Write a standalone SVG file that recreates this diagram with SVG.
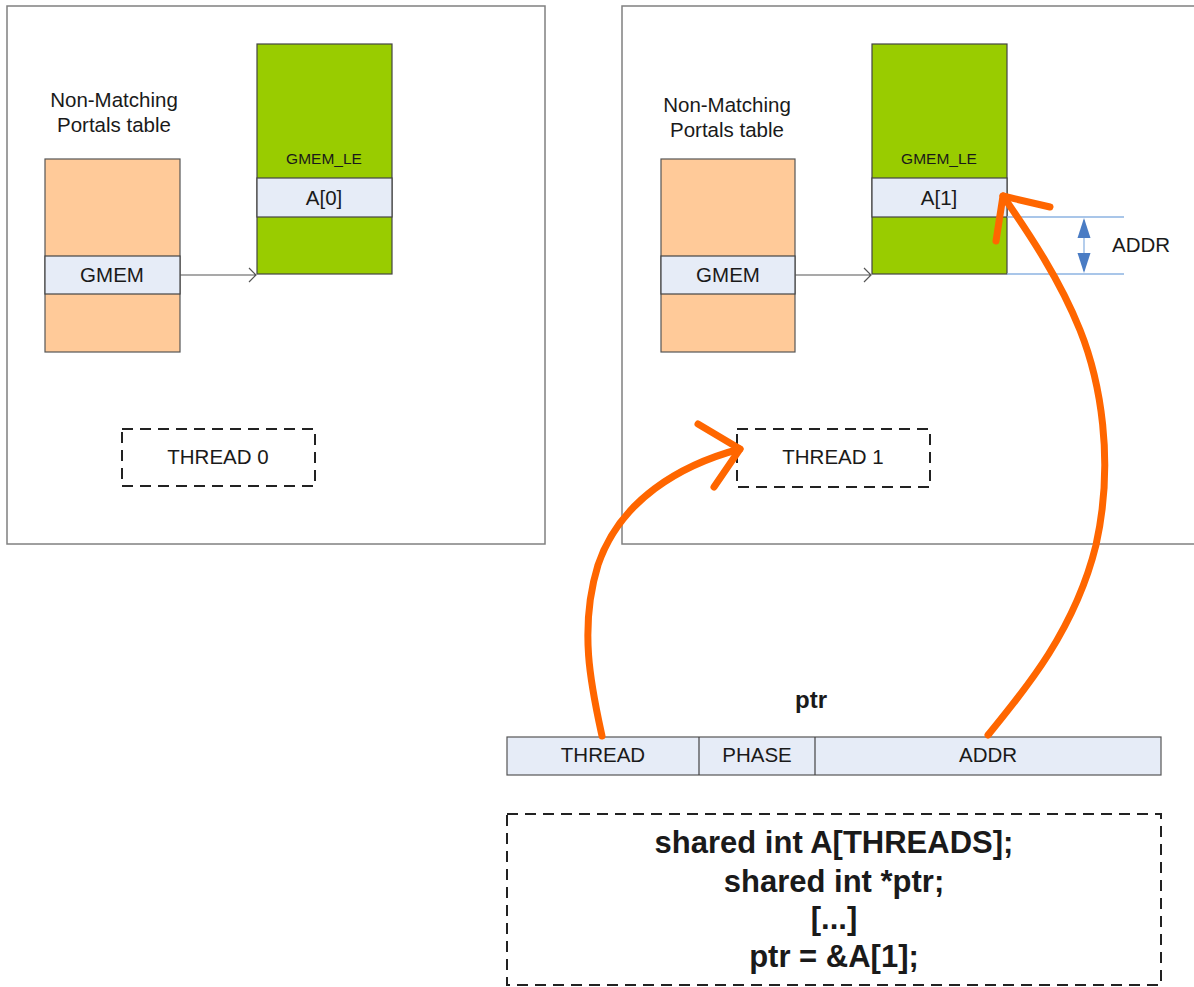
<svg xmlns="http://www.w3.org/2000/svg" width="1194" height="987" viewBox="0 0 1194 987">
  <defs>
    <style>
      .panel{fill:#fff;stroke:#808080;stroke-width:1.5}
      .tbl{fill:#ffca99;stroke:#555;stroke-width:1.2}
      .le{fill:#99cc00;stroke:#444;stroke-width:1.2}
      .row{fill:#e6ecf7;stroke:#444;stroke-width:1.2}
      .dash{fill:none;stroke:#222;stroke-width:2;stroke-dasharray:11 7}
      .link{fill:none;stroke:#555;stroke-width:1.2}
      .dim{fill:none;stroke:#8db3e2;stroke-width:1.3}
      .dimhead{fill:#4a7cc4}
      .hand{fill:none;stroke:#ff6600;stroke-width:7;stroke-linecap:round;stroke-linejoin:round}
      text{font-family:"Liberation Sans",Arial,sans-serif;fill:#1a1a1a;text-anchor:middle}
      .lbl{font-size:20.5px}
      .small{font-size:15.5px}
      .bold{font-weight:bold}
      .code{font-size:31px;font-weight:bold}
    </style>
  </defs>

  <!-- thread 0 memory space -->
  <g id="thread0-space">
    <rect class="panel" x="7" y="6" width="538" height="538"/>
    <text class="lbl" x="114" y="107">Non-Matching</text>
    <text class="lbl" x="114" y="132">Portals table</text>
  </g>
  <g id="thread0-table">
    <rect class="tbl" x="45" y="159" width="135" height="193"/>
    <rect class="row" x="45" y="256" width="135" height="38"/>
    <text class="lbl" x="112" y="282">GMEM</text>
  </g>
  <g id="thread0-le">
    <rect class="le" x="257" y="44" width="135" height="230"/>
    <text class="small" x="324" y="164">GMEM_LE</text>
    <rect class="row" x="257" y="178" width="135" height="39"/>
    <text class="lbl" x="324" y="205">A[0]</text>
  </g>
  <g id="thread0-label">
    <rect class="dash" x="122" y="429" width="193" height="57"/>
    <text class="lbl" x="218" y="464">THREAD 0</text>
  </g>

  <!-- thread 1 memory space -->
  <g id="thread1-space">
    <rect class="panel" x="622" y="6" width="600" height="538"/>
    <text class="lbl" x="727" y="112">Non-Matching</text>
    <text class="lbl" x="727" y="137">Portals table</text>
  </g>
  <g id="thread1-table">
    <rect class="tbl" x="661" y="159" width="134" height="193"/>
    <rect class="row" x="661" y="256" width="134" height="38"/>
    <text class="lbl" x="728" y="282">GMEM</text>
  </g>
  <g id="thread1-le">
    <rect class="le" x="872" y="44" width="135" height="230"/>
    <text class="small" x="939" y="164">GMEM_LE</text>
    <rect class="row" x="872" y="178" width="135" height="39"/>
    <text class="lbl" x="939" y="205">A[1]</text>
  </g>
  <g id="thread1-label">
    <rect class="dash" x="737" y="429" width="193" height="58"/>
    <text class="lbl" x="833" y="464">THREAD 1</text>
  </g>

  <!-- address offset dimension -->
  <g id="addr-dimension">
    <line class="dim" x1="1007" y1="217" x2="1124" y2="217"/>
    <line class="dim" x1="1007" y1="274" x2="1124" y2="274"/>
    <line class="dim" x1="1084" y1="220" x2="1084" y2="271"/>
    <path class="dimhead" d="M1084,218 L1090.5,238 L1077.5,238 Z"/>
    <path class="dimhead" d="M1084,273 L1090.5,253 L1077.5,253 Z"/>
    <text class="lbl" x="1141" y="252">ADDR</text>
  </g>

  <!-- pointer representation -->
  <g id="ptr">
    <text class="bold" x="811" y="708" style="font-size:24px">ptr</text>
    <rect class="row" x="507" y="737" width="654" height="38" style="stroke:#555"/>
    <line class="link" x1="699" y1="737" x2="699" y2="775" style="stroke:#444"/>
    <line class="link" x1="815" y1="737" x2="815" y2="775" style="stroke:#444"/>
    <text class="lbl" x="603" y="762">THREAD</text>
    <text class="lbl" x="757" y="762">PHASE</text>
    <text class="lbl" x="988" y="762">ADDR</text>
  </g>

  <!-- source code -->
  <g id="code">
    <rect class="dash" x="507" y="814" width="654" height="171"/>
    <text class="code" x="834" y="853">shared int A[THREADS];</text>
    <text class="code" x="834" y="892">shared int *ptr;</text>
    <text class="code" x="834" y="929">[...]</text>
    <text class="code" x="834" y="967">ptr = &amp;A[1];</text>
  </g>

  <!-- connectors -->
  <g id="connectors">
    <path class="link" d="M180,275 H256 M249,268 L256,275 L249,282"/>
    <path class="link" d="M795,275 H871 M864,268 L871,275 L864,282"/>
    <path class="hand" d="M602,736 C592,690 578,630 598,565 C620,500 680,465 740,449"/>
    <path class="hand" d="M698,424 L740,449 L714,487"/>
    <path class="hand" d="M988,735 C1025,690 1075,630 1096,545 C1115,460 1100,380 1080,330 C1060,280 1030,235 1003,196"/>
    <path class="hand" d="M1050,207 L1003,196 L996,241"/>
  </g>
</svg>
